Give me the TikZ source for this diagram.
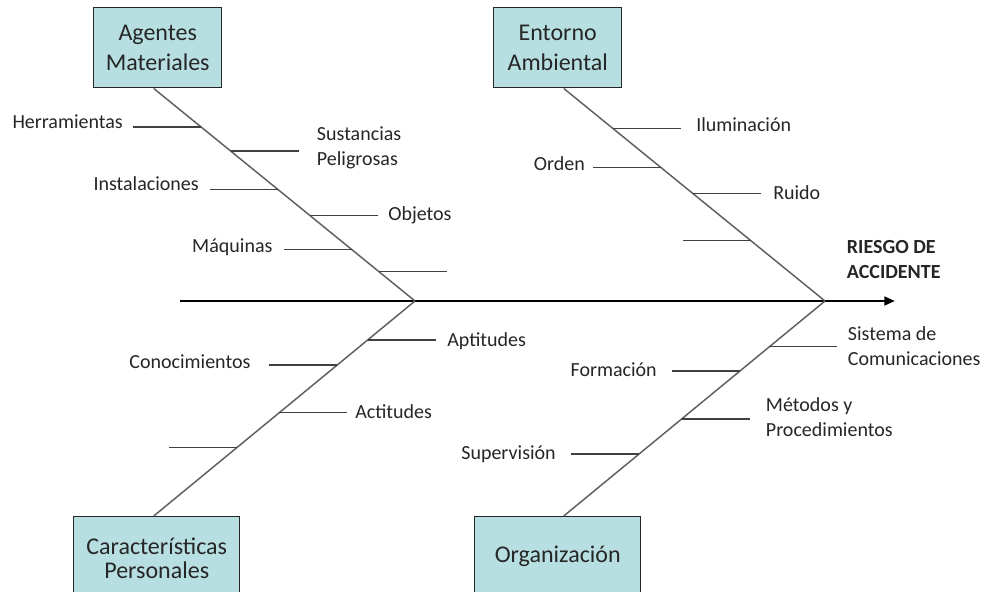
\documentclass[tikz,border=0pt]{standalone}
\usepackage{fontspec}
\setmainfont{Carlito}
\usetikzlibrary{arrows.meta}
\definecolor{boxfill}{HTML}{B7DFE1}
\definecolor{boxline}{HTML}{262626}
\definecolor{bonegray}{HTML}{5F5F5F}
\definecolor{twiggray}{HTML}{404040}
\definecolor{txt}{HTML}{262626}
\begin{document}
\begin{tikzpicture}[x=0.75pt,y=-0.75pt,
  cat/.style={draw=boxline, line width=1.1pt, fill=boxfill, anchor=north west, inner sep=0pt, align=center, text=txt},
  lbl/.style={inner sep=0pt, font=\fontsize{15}{18.75}\selectfont, text=txt},
  bone/.style={draw=bonegray, line width=1.1pt},
  twig/.style={draw=twiggray, line width=0.9pt},
  spine/.style={draw=black, line width=1.9pt, -{Triangle[length=8pt,width=6.5pt]}},
]
\useasboundingbox (0,0) rectangle (985,592);
\clip (0,0) rectangle (985,592);
\fill[white] (0,0) rectangle (985,592);

% category boxes
\node[cat, minimum width=96pt, minimum height=60pt, font=\fontsize{18}{22.5}\selectfont] (am) at (93,7) {Agentes\\Materiales};
\node[cat, minimum width=96pt, minimum height=60pt, font=\fontsize{18}{22.5}\selectfont] (ea) at (493,7) {Entorno\\Ambiental};
\node[cat, minimum width=124.5pt, minimum height=63pt, font=\fontsize{18}{18}\selectfont] (cp) at (73,516) {Características\\Personales};
\node[cat, minimum width=124.5pt, minimum height=60pt, font=\fontsize{18}{22.5}\selectfont] (org) at (474,516) {Organización};

% spine
\coordinate (s0) at (180,301);
\coordinate (j1) at (415,301);
\coordinate (j2) at (825,301);
\coordinate (s1) at (895,301);
\draw[spine] (s0) -- (s1);

% bones
\draw[bone] ([xshift=-3pt]am.south) -- (j1)
  coordinate[pos=0.181] (ul1) coordinate[pos=0.294] (ul2) coordinate[pos=0.477] (ul3)
  coordinate[pos=0.598] (ul4) coordinate[pos=0.757] (ul5) coordinate[pos=0.863] (ul6);
\draw[bone] (j1) -- ([xshift=-2.25pt]cp.north)
  coordinate[pos=0.181] (ll1) coordinate[pos=0.298] (ll2) coordinate[pos=0.520] (ll3)
  coordinate[pos=0.680] (ll4);
\draw[bone] ([xshift=4.5pt]ea.south) -- (j2)
  coordinate[pos=0.188] (ur1) coordinate[pos=0.372] (ur2) coordinate[pos=0.494] (ur3)
  coordinate[pos=0.715] (ur4);
\draw[bone] (j2) -- ([xshift=4.5pt]org.north)
  coordinate[pos=0.213] (lr1) coordinate[pos=0.326] (lr2) coordinate[pos=0.549] (lr3)
  coordinate[pos=0.712] (lr4);

% twigs
\draw[twig] (ul1) -- ++(-68,0);
\draw[twig] (ul2) -- ++(68,0);
\draw[twig] (ul3) -- ++(-68,0);
\draw[twig] (ul4) -- ++(68,0);
\draw[twig] (ul5) -- ++(-68,0);
\draw[twig] (ul6) -- ++(68,0);
\draw[twig] (ll1) -- ++(68,0);
\draw[twig] (ll2) -- ++(-68,0);
\draw[twig] (ll3) -- ++(68,0);
\draw[twig] (ll4) -- ++(-68,0);
\draw[twig] (ur1) -- ++(68,0);
\draw[twig] (ur2) -- ++(-68,0);
\draw[twig] (ur3) -- ++(68,0);
\draw[twig] (ur4) -- ++(-68,0);
\draw[twig] (lr1) -- ++(68,0);
\draw[twig] (lr2) -- ++(-68,0);
\draw[twig] (lr3) -- ++(68,0);
\draw[twig] (lr4) -- ++(-68,0);

% labels (multi-line nodes: base = baseline of last line)
\node[lbl, anchor=base east] (herr) at (123,128) {Herramientas};
\node[lbl, anchor=base west, align=left] (sust) at (316.7,165.7) {Sustancias\\Peligrosas};
\node[lbl, anchor=base east] (inst) at (199,190.7) {Instalaciones};
\node[lbl, anchor=base west] (obj) at (388,220.5) {Objetos};
\node[lbl, anchor=base east] (maq) at (272.7,252.7) {Máquinas};
\node[lbl, anchor=base west] (apt) at (447,346) {Aptitudes};
\node[lbl, anchor=base east] (cono) at (250.7,368.3) {Conocimientos};
\node[lbl, anchor=base west] (acti) at (355,418.3) {Actitudes};
\node[lbl, anchor=base west] (ilum) at (696,131.7) {Iluminación};
\node[lbl, anchor=base east] (orden) at (585,170.7) {Orden};
\node[lbl, anchor=base west] (ruido) at (773,199) {Ruido};
\node[lbl, anchor=base west, align=left, font=\bfseries\fontsize{15}{18.75}\selectfont] (riesgo) at (846.7,278.3) {RIESGO DE\\ACCIDENTE};
\node[lbl, anchor=base west, align=left] (sist) at (847.7,365) {Sistema de\\Comunicaciones};
\node[lbl, anchor=base east] (form) at (657,376) {Formación};
\node[lbl, anchor=base west, align=left] (met) at (765.7,436.7) {Métodos y\\Procedimientos};
\node[lbl, anchor=base east] (sup) at (556,459.3) {Supervisión};
\end{tikzpicture}
\end{document}
